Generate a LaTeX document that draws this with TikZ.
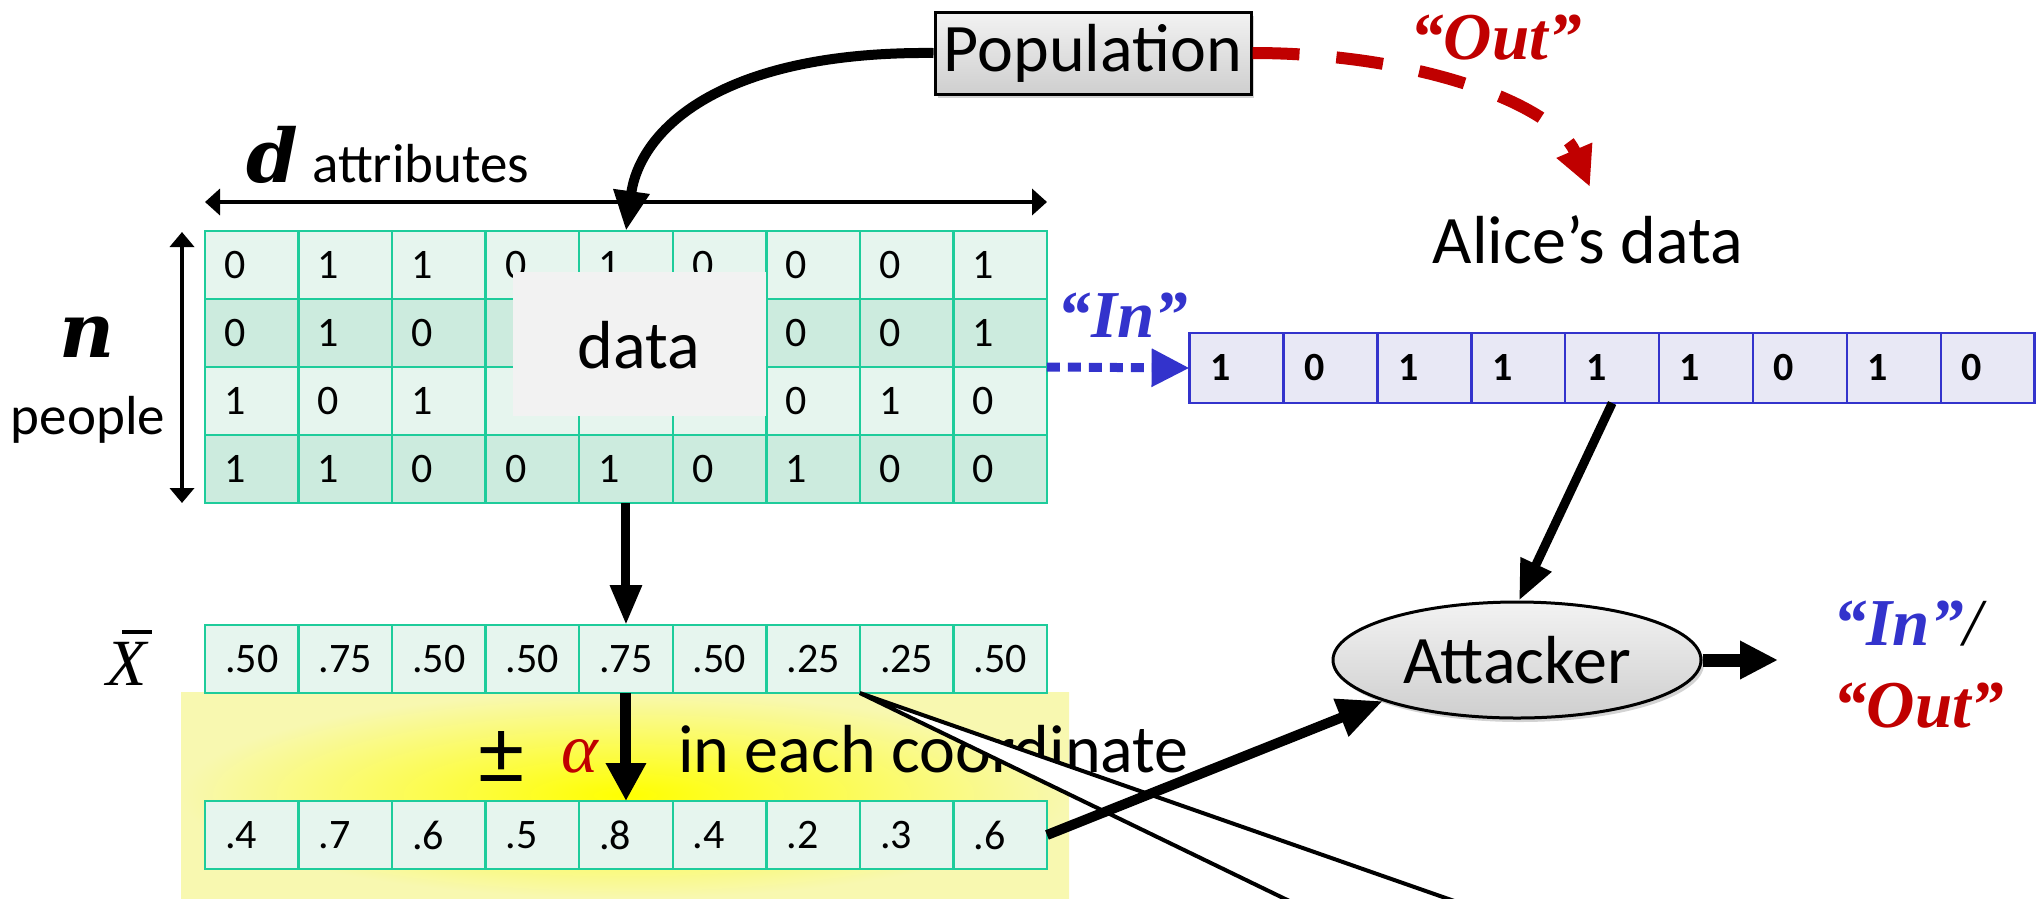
\documentclass[tikz,border=0pt]{standalone}
\usepackage{fontspec}
\setmainfont{Carlito}
\newfontfamily\tnr{Liberation Serif}
\newfontfamily\dvs{DejaVu Serif}
\newfontfamily\lsans{Liberation Sans}
\usetikzlibrary{arrows.meta,shadows,calc,shapes.geometric}
\definecolor{tealb}{HTML}{1ECC9B}
\definecolor{lightg}{HTML}{E6F5EE}
\definecolor{darkg}{HTML}{CCEBDE}
\definecolor{blueb}{HTML}{3333CC}
\definecolor{lav}{HTML}{E8E8F5}
\definecolor{redc}{HTML}{C00000}
\definecolor{paley}{HTML}{F8F8B0}
\definecolor{datagray}{HTML}{F2F2F2}
\begin{document}
\begin{tikzpicture}[x=1pt,y=-1pt,
  gcell/.style={draw=tealb, line width=2.5pt, minimum width=93.55pt, minimum height=68pt, anchor=north west, inner sep=0pt, outer sep=0pt},
  acell/.style={draw=blueb, fill=lav, line width=2.5pt, minimum width=93.9pt, minimum height=70pt, anchor=north west, inner sep=0pt, outer sep=0pt},
  dig/.style={font=\fontsize{42}{45}\selectfont, inner sep=0pt, anchor=center},
  bdig/.style={font=\bfseries\fontsize{40}{44}\selectfont, inner sep=0pt, anchor=center},
  dec/.style={font=\fontsize{42}{45}\selectfont, inner sep=0pt, anchor=west},
  bigtxt/.style={font=\fontsize{68}{72}\selectfont, inner sep=0pt},
  midtxt/.style={font=\fontsize{55}{60}\selectfont, inner sep=0pt},
  quotetxt/.style={font=\tnr\bfseries\itshape\fontsize{67}{72}\selectfont, inner sep=0pt},
  grayshade/.style={top color=gray!10, bottom color=gray!38, draw=black, line width=3pt,
     drop shadow={opacity=0.35, shadow xshift=3pt, shadow yshift=-4pt}},
]
\useasboundingbox (0,0) rectangle (2036,898);

% yellow highlight
\shade[inner color=yellow, outer color=paley] (181,692) rectangle (1069,898);

% data matrix
\foreach \r/\vals/\fc in {1/{0,1,1,0,1,0,0,0,1}/lightg, 2/{0,1,0,,,,0,0,1}/darkg, 3/{1,0,1,,,,0,1,0}/lightg, 4/{1,1,0,0,1,0,1,0,0}/darkg}{
  \foreach \v [count=\c] in \vals {
    \node[gcell, fill=\fc] (m-\r-\c) at ({205+93.55*(\c-1)}, {231+68*(\r-1)}) {};
    \node[dig] (md-\r-\c) at ($(m-\r-\c.west)+(30,0)$) {\v};
  }
}
% data box
\node[fill=datagray, minimum width=253pt, minimum height=144pt, inner sep=0pt] (databox) at (639.5,344) {};
\node[bigtxt, anchor=base] (datatxt) at (639,368) {data};

% X bar row
\foreach \v [count=\c] in {.50,.75,.50,.50,.75,.50,.25,.25,.50} {
  \node[gcell, fill=lightg] (x-\c) at ({205+93.55*(\c-1)}, 625) {};
  \node[dec] (xd-\c) at ($(x-\c.west)+(20,0)$) {\v};
}
% noisy row
\foreach \v [count=\c] in {.4,.7,.6,.5,.8,.4,.2,.3,.6} {
  \node[gcell, fill=lightg] (nz-\c) at ({205+93.55*(\c-1)}, 801) {};
  \node[dec] (nzd-\c) at ($(nz-\c.west)+(20,0)$) {\v};
}
% Alice's row
\foreach \v [count=\c] in {1,0,1,1,1,1,0,1,0} {
  \node[acell] (a-\c) at ({1189.6+93.9*(\c-1)}, 333) {};
  \node[bdig] (ad-\c) at ($(a-\c.west)+(31,0)$) {\v};
}

% labels
\node[inner sep=0pt, anchor=base, font=\dvs\bfseries\itshape\fontsize{74}{80}\selectfont] (dlab) at (272,182) {d};
\node[midtxt, anchor=base west] (attr) at (312,182) {attributes};
\node[inner sep=0pt, anchor=base, font=\dvs\bfseries\itshape\fontsize{76}{80}\selectfont] (nlab) at (87,357) {n};
\node[midtxt, anchor=base] (people) at (88,434) {people};
\node[inner sep=0pt, anchor=base west, font=\tnr\itshape\fontsize{66}{70}\selectfont] (xbar) at (106,685) {\rlap{\hspace{16pt}\raisebox{51pt}{\rule{30pt}{4pt}}}X};
\node[inner sep=0pt, anchor=center, font=\lsans\fontsize{84}{86}\selectfont] (pm) at (502,756) {±};
\node[inner sep=0pt, anchor=base, font=\tnr\itshape\fontsize{70}{72}\selectfont, text=redc] (alpha) at (580,772) {α};
\node[bigtxt, anchor=base west] (coord) at (678,772) {in each coordinate};
\node[bigtxt, anchor=base] (alice) at (1588,263) {Alice’s data};
\node[quotetxt, anchor=base, text=blueb] (inlab) at (1123,337) {“In”};
\node[quotetxt, anchor=base, text=redc] (outlab) at (1496,59) {“Out”};
\node[quotetxt, anchor=base west] (resin) at (1833,645) {\textcolor{blueb}{“In”}{\mdseries /}};
\node[quotetxt, anchor=base west, text=redc] (resout) at (1833,727) {“Out”};

% wedge
\filldraw[fill=white, draw=black, line width=4pt, line join=miter] (x-7.south east) -- (1308,910) -- (1480,910) -- cycle;

% dimension arrows
\coordinate (dL) at (205,202);
\coordinate (dR) at (1047,202);
\draw[line width=4pt, {Triangle[length=15pt,width=26pt]}-{Triangle[length=15pt,width=26pt]}] (dL) -- (dR);
\coordinate (nT) at (182,232);
\coordinate (nB) at (182,503);
\draw[line width=4pt, {Triangle[length=15pt,width=24pt]}-{Triangle[length=15pt,width=24pt]}] (nT) -- (nB);

% vertical arrows
\draw[line width=9pt, -{Triangle[length=40pt,width=30pt]}] (m-4-5.south) -- (x-5.north);
\draw[line width=11pt, -{Triangle[length=38pt,width=38pt]}] (x-5.south) -- (nz-5.north);

% In arrow
\draw[blueb, line width=9pt, dash pattern=on 13pt off 8pt, -{Triangle[length=38pt,width=36pt]}] (m-2-9.south east) -- (a-1.west);

% Attacker
\node[ellipse, grayshade, minimum width=368pt, minimum height=116pt, inner sep=0pt, font=\fontsize{68}{72}\selectfont] (att) at (1517,660) {Attacker};

% Population
\node[grayshade, minimum width=316pt, minimum height=82pt, inner sep=0pt, font=\fontsize{68}{72}\selectfont] (pop) at (1093,53) {Population};

% curved arrows
\draw[line width=10pt, -{Triangle[length=40pt,width=34pt]}] (pop.west) .. controls (720,51) and (640,130) .. (m-1-5.north);
\coordinate (outtip) at (1590,187);
\draw[redc, line width=12pt, dash pattern=on 47pt off 37pt, -{Triangle[length=40pt,width=36pt]}] (pop.east) .. controls (1420,53) and (1555,105) .. (outtip);

% attacker arrows
\draw[line width=9pt, -{Triangle[length=40pt,width=32pt]}] (a-5.south) -- (att.88);
\draw[line width=10pt, -{Triangle[length=45pt,width=38pt]}] (nz-9.east) -- (att.197);
\coordinate (resarr) at (1778,660);
\draw[line width=13pt, -{Triangle[length=38pt,width=36pt]}] (att.east) -- (resarr);
\end{tikzpicture}
\end{document}
